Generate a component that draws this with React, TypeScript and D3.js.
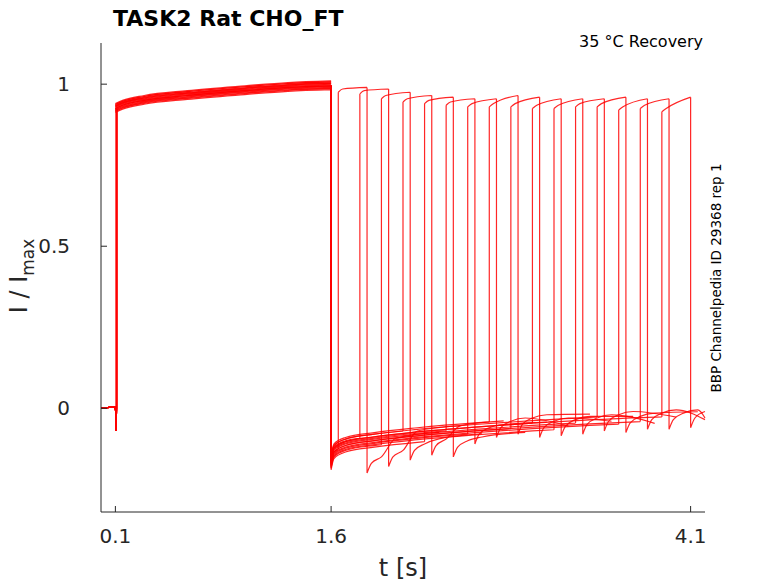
import * as d3 from "d3";

// recovery protocol: 16 sweeps, second pulse starts at these times (s)
const testStarts = [1.65, 1.8, 1.95, 2.1, 2.25, 2.4, 2.55, 2.7, 2.85, 3.0, 3.15, 3.3, 3.45, 3.6, 3.75, 3.9];
const testDuration = 0.2;
const testPeakStart = [0.975, 0.97, 0.955, 0.945, 0.94, 0.935, 0.93, 0.93, 0.93, 0.925, 0.925, 0.93, 0.93, 0.92, 0.925, 0.915];
const testPeakEnd = [0.99, 0.985, 0.975, 0.965, 0.96, 0.955, 0.955, 0.965, 0.96, 0.955, 0.955, 0.955, 0.96, 0.955, 0.955, 0.96];
const postFall = [-0.2, -0.18, -0.16, -0.145, -0.15, -0.11, -0.09, -0.08, -0.09, -0.085, -0.08, -0.07, -0.075, -0.065, -0.065, -0.06];

const firstPulseT = [0.1, 0.15, 0.3, 0.6, 1.0, 1.3, 1.6];
const firstPulseV = [0.925, 0.935, 0.95, 0.965, 0.98, 0.99, 0.995];
const tailT = [1.6, 1.62, 1.7, 1.9, 2.2, 2.6, 3.0, 3.4, 3.8, 4.2];
const tailV = [-0.17, -0.135, -0.115, -0.1, -0.085, -0.07, -0.058, -0.048, -0.04, -0.035];
const sweepOffset = [0, 0.015, -0.015, 0.02, -0.02, 0.008, -0.008, 0.025, 0, 0.012, -0.012, 0.005, 0.02, -0.005, 0, 0.012];

const xTicks = [0.1, 1.6, 4.1];
const yTicks = [0, 0.5, 1];

export default function App() {
  const W = 778, H = 583;
  const x = d3.scaleLinear().domain([0, 4.2]).range([101, 705]);
  const y = d3.scaleLinear().domain([-0.32, 1.127]).range([512, 43]);
  const line = d3.line<[number, number]>().x((d) => x(d[0])).y((d) => y(d[1]));
  const smooth = d3.line<[number, number]>().x((d) => x(d[0])).y((d) => y(d[1])).curve(d3.curveMonotoneX);
  const tailAt = (t: number) => d3.scaleLinear().domain(tailT).range(tailV).clamp(true)(t);

  const sweeps = testStarts.map((ts, i) => {
    const off = sweepOffset[i];
    const pre: [number, number][] = [[0, 0], [0.098, 0.005], [0.102, -0.01], [0.105, -0.07], [0.108, 0]];
    const p1: [number, number][] = firstPulseT.map((t, j) => [t, firstPulseV[j] + off * 0.6]);
    const tail: [number, number][] = tailT.filter((t) => t < ts).map((t) => [t, tailAt(t) + off]);
    tail.push([ts, tailAt(ts) + off]);
    const te = ts + testDuration;
    const pulse: [number, number][] = [[ts, testPeakStart[i]], [ts + 0.03, testPeakStart[i] + 0.01], [te, testPeakEnd[i]]];
    const after: [number, number][] = [[te, postFall[i]], [te + 0.03, postFall[i] + 0.03], [te + 0.1, postFall[i] + 0.05]];
    const endT = Math.min(4.2, te + 0.5);
    if (te + 0.2 < 4.2) after.push([te + 0.2, Math.max(postFall[i] + 0.06, tailAt(te + 0.2) + off)]);
    if (endT > te + 0.2) after.push([endT, tailAt(endT) + off + 0.005]);
    return [
      line(pre), line([[0.108, 0], [0.108, firstPulseV[0]]]), smooth(p1),
      line([[1.6, firstPulseV[firstPulseV.length - 1]], [1.6, tailV[0] + off]]), smooth(tail),
      line([[ts, tail[tail.length - 1][1]], [ts, testPeakStart[i]]]), smooth(pulse),
      line([[te, testPeakEnd[i]], [te, postFall[i]]]), smooth(after),
    ].join("");
  });

  const font = "'DejaVu Sans', sans-serif";
  return (
    <svg width={W} height={H} style={{ position: "absolute", left: 0, top: 0, background: "#fff", whiteSpace: "pre" }} fontFamily={font}>
      <rect width={W} height={H} fill="#fff" />
      {sweeps.map((d, i) => (
        <path key={i} d={d} fill="none" stroke="#ff0000" strokeWidth={1.2} strokeOpacity={0.85} />
      ))}
      <line x1={101} x2={101} y1={43} y2={512} stroke="#262626" />
      <line x1={101} x2={705} y1={512} y2={512} stroke="#262626" />
      {xTicks.map((t) => (
        <g key={t}>
          <line x1={x(t)} x2={x(t)} y1={512} y2={506} stroke="#262626" />
          <text x={x(t)} y={543} fontSize={20} textAnchor="middle" fill="#262626">{t}</text>
        </g>
      ))}
      {yTicks.map((t) => (
        <g key={t}>
          <line x1={101} x2={107} y1={y(t)} y2={y(t)} stroke="#262626" />
          <text x={70} y={y(t) + 7} fontSize={20} textAnchor="end" fill="#262626">{t}</text>
        </g>
      ))}
      <text x={403} y={576} fontSize={24} textAnchor="middle" fill="#262626">t [s]</text>
      <text transform="translate(27,276) rotate(-90)" fontSize={24} textAnchor="middle" fill="#262626">
        I / I<tspan fontSize={17} dy={7}>max</tspan>
      </text>
      <text x={113} y={26} fontSize={22} fontWeight="bold" fill="#000">{"TASK2  Rat  CHO_FT"}</text>
      <text x={703} y={47} fontSize={16} textAnchor="end" fill="#000">{"35 °C  Recovery"}</text>
      <text transform="translate(721,278) rotate(-90)" fontSize={13.5} textAnchor="middle" fill="#000">BBP Channelpedia ID 29368 rep 1</text>
    </svg>
  );
}
